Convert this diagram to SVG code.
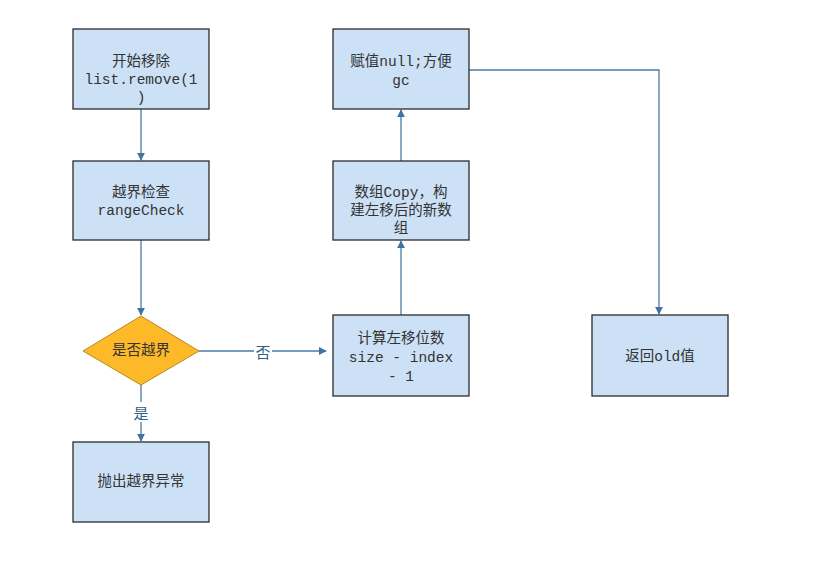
<svg xmlns="http://www.w3.org/2000/svg" width="824" height="568" viewBox="0 0 824 568">
<style>
.box{fill:#cce1f6;stroke:#2b2b2b;stroke-width:1.3}
.dia{fill:#fdb927;stroke:#b98a1c;stroke-width:1}
.t{font-family:"Liberation Mono","Noto Sans CJK SC",monospace;font-size:14.5px;fill:#333;text-anchor:middle;dominant-baseline:central}
.l{font-family:"Noto Sans CJK SC","Liberation Sans",sans-serif;font-size:15px;fill:#2f5f86;text-anchor:middle;dominant-baseline:central}
.c{fill:none;stroke:#4a7ba6;stroke-width:1.3}
</style>
<defs>
<marker id="ah" viewBox="0 0 10 10" refX="9" refY="5" markerWidth="8" markerHeight="8" markerUnits="userSpaceOnUse" orient="auto">
<path d="M0,0 L10,5 L0,10 z" fill="#3f73a2"/>
</marker>
</defs>
<rect width="824" height="568" fill="#fff"/>
<g id="connectors">
<path class="c" d="M141,109 V160" marker-end="url(#ah)"/>
<path class="c" d="M141,240 V315" marker-end="url(#ah)"/>
<path class="c" d="M141,385 V402 M141,422 V441" marker-end="url(#ah)"/>
<path class="c" d="M199,351 H254 M272,351 H326" marker-end="url(#ah)"/>
<path class="c" d="M401,315 V241" marker-end="url(#ah)"/>
<path class="c" d="M401,161 V110" marker-end="url(#ah)"/>
<path class="c" d="M469,70 H659 V314" marker-end="url(#ah)"/>
<text class="l" x="263" y="351">否</text>
<text class="l" x="141" y="412">是</text>
</g>
<g id="start">
<rect class="box" x="73" y="29" width="136" height="80"/>
<text class="t" x="141" y="62">开始移除</text>
<text class="t" x="141" y="80">list.remove(1</text>
<text class="t" x="141" y="98">)</text>
</g>
<g id="rangeCheck">
<rect class="box" x="73" y="161" width="136" height="79"/>
<text class="t" x="141" y="193">越界检查</text>
<text class="t" x="141" y="211">rangeCheck</text>
</g>
<g id="decision">
<polygon class="dia" points="141,316 199,351 141,385 83,351"/>
<text class="t" x="141" y="351">是否越界</text>
</g>
<g id="throw">
<rect class="box" x="73" y="442" width="136" height="80"/>
<text class="t" x="141" y="482">抛出越界异常</text>
</g>
<g id="calc">
<rect class="box" x="333" y="315" width="136" height="81"/>
<text class="t" x="401" y="339">计算左移位数</text>
<text class="t" x="401" y="358">size - index</text>
<text class="t" x="401" y="377">- 1</text>
</g>
<g id="copy">
<rect class="box" x="333" y="161" width="136" height="79"/>
<text class="t" x="401" y="193">数组Copy，构</text>
<text class="t" x="401" y="211">建左移后的新数</text>
<text class="t" x="401" y="229">组</text>
</g>
<g id="nullgc">
<rect class="box" x="333" y="29" width="136" height="80"/>
<text class="t" x="401" y="62">赋值null;方便</text>
<text class="t" x="401" y="81">gc</text>
</g>
<g id="return">
<rect class="box" x="592" y="315" width="136" height="81"/>
<text class="t" x="660" y="357">返回old值</text>
</g>
</svg>
